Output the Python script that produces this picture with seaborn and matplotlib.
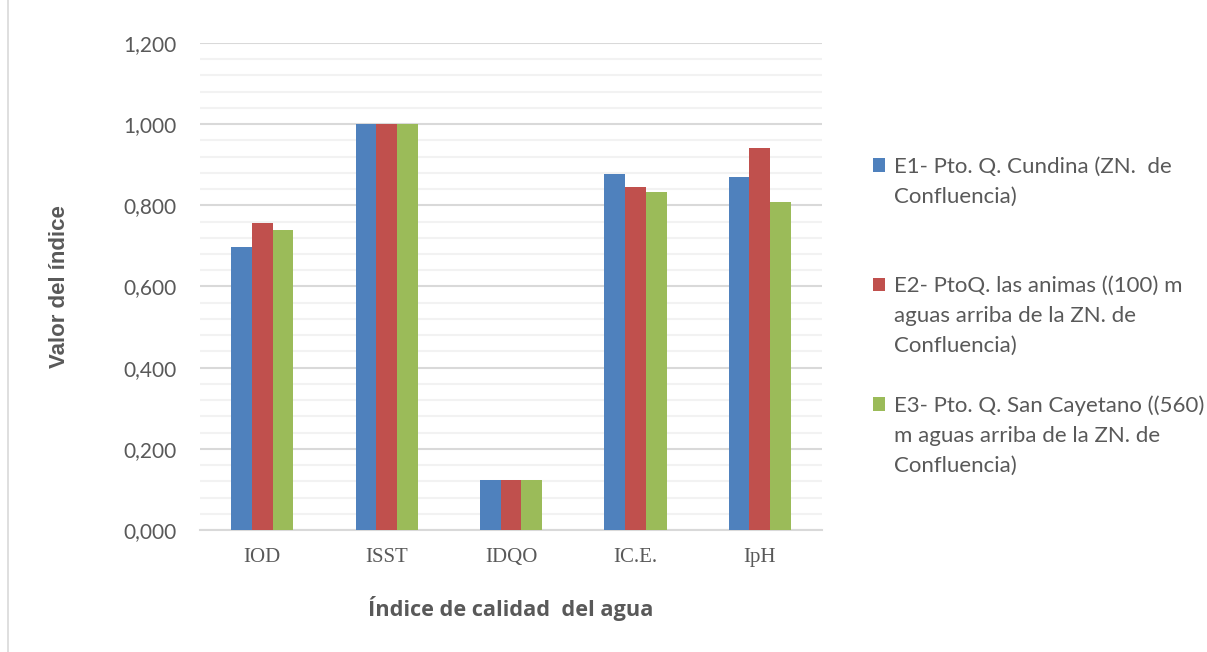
import numpy as np
import pandas as pd
import seaborn as sns
import matplotlib
matplotlib.use("Agg")
import matplotlib.pyplot as plt
from matplotlib.ticker import MultipleLocator, FuncFormatter
from matplotlib.lines import Line2D
from matplotlib.patches import Rectangle

categories = ["IOD", "ISST", "IDQO", "IC.E.", "IpH"]
series_names = [
    "E1- Pto. Q. Cundina (ZN.  de Confluencia)",
    "E2- PtoQ. las animas ((100) m aguas arriba de la ZN. de Confluencia)",
    "E3- Pto. Q. San Cayetano ((560) m aguas arriba de la ZN. de Confluencia)",
]
legend_lines = [
    ["E1- Pto. Q. Cundina (ZN.  de", "Confluencia)"],
    ["E2- PtoQ. las animas ((100) m", "aguas arriba de la ZN. de", "Confluencia)"],
    ["E3- Pto. Q. San Cayetano ((560)", "m aguas arriba de la ZN. de", "Confluencia)"],
]
e1_values = [0.697, 1.000, 0.123, 0.876, 0.869]
e2_values = [0.757, 1.000, 0.123, 0.844, 0.942]
e3_values = [0.738, 1.000, 0.123, 0.834, 0.807]
colors = ["#4F81BD", "#C0504D", "#9BBB59"]

rows = []
for name, vals in zip(series_names, [e1_values, e2_values, e3_values]):
    for c, v in zip(categories, vals):
        rows.append({"cat": c, "serie": name, "valor": v})
df = pd.DataFrame(rows)

sns.set_theme(style="white")
plt.rcParams["font.family"] = ["Lato", "DejaVu Sans"]
txt = "#595959"

fig = plt.figure(figsize=(12.07, 6.52), dpi=100)
ax = fig.add_axes([200 / 1207, 122 / 652, 622 / 1207, 487 / 652])

sns.barplot(data=df, x="cat", y="valor", hue="serie", palette=colors,
            width=0.5, ax=ax, saturation=1, legend=False, linewidth=0,
            zorder=3)

ax.set_ylim(0, 1.2)
ax.set_xlim(-0.5, 4.5)
ax.yaxis.set_major_locator(MultipleLocator(0.2))
ax.yaxis.set_minor_locator(MultipleLocator(0.04))
ax.yaxis.set_major_formatter(FuncFormatter(lambda v, p: f"{v:.3f}".replace(".", ",")))
ax.grid(True, which="major", axis="y", color="#D9D9D9", linewidth=1.5, zorder=0)
ax.grid(True, which="minor", axis="y", color="#F2F2F2", linewidth=1.5, zorder=0)
ax.set_axisbelow(True)
for s in ["top", "right", "left"]:
    ax.spines[s].set_visible(False)
ax.spines["bottom"].set_color("#D9D9D9")
ax.spines["bottom"].set_linewidth(1.5)
ax.tick_params(axis="both", which="both", length=0)
ax.tick_params(axis="y", labelsize=15, labelcolor=txt, pad=17)
ax.tick_params(axis="x", labelsize=15, labelcolor=txt, pad=13)
for lab in ax.get_xticklabels():
    lab.set_fontfamily("Liberation Serif")

ax.set_xlabel("Índice de calidad  del agua", fontsize=15.7, fontweight="bold",
              color=txt, labelpad=21, fontfamily="Open Sans")
ax.set_ylabel("Valor del índice", fontsize=16, fontweight="bold",
              color=txt, labelpad=38, fontfamily="Liberation Sans")

# legend: one row per text line, colour square on the first line of each entry
handles, labels, hidden = [], [], []
blank = Rectangle((0, 0), 1, 1, facecolor="none", edgecolor="none")
gaps = [2, 1, 0]
for col, lines, g in zip(colors, legend_lines, gaps):
    for i, ln in enumerate(lines):
        if i == 0:
            handles.append(Rectangle((0, 0), 1, 1, facecolor=col, edgecolor="none"))
        else:
            handles.append(blank)
        labels.append(ln)
        hidden.append(False)
    for _ in range(g):
        handles.append(blank)
        labels.append("Xg")
        hidden.append(True)
leg = ax.legend(handles, labels, loc="upper left",
                bbox_to_anchor=(873 / 1207, 1 - 157 / 652),
                bbox_transform=fig.transFigure,
                frameon=False, fontsize=16, labelcolor=txt,
                handlelength=0.55, handleheight=0.55, handletextpad=0.4,
                labelspacing=0.44, borderaxespad=0, borderpad=0)
for t, h in zip(leg.get_texts(), hidden):
    if h:
        t.set_alpha(0)

fig.add_artist(Line2D([8 / 1207, 8 / 1207], [0, 1], color="#D9D9D9", linewidth=1.2))

fig.savefig("out.png", dpi=100, facecolor="white")
